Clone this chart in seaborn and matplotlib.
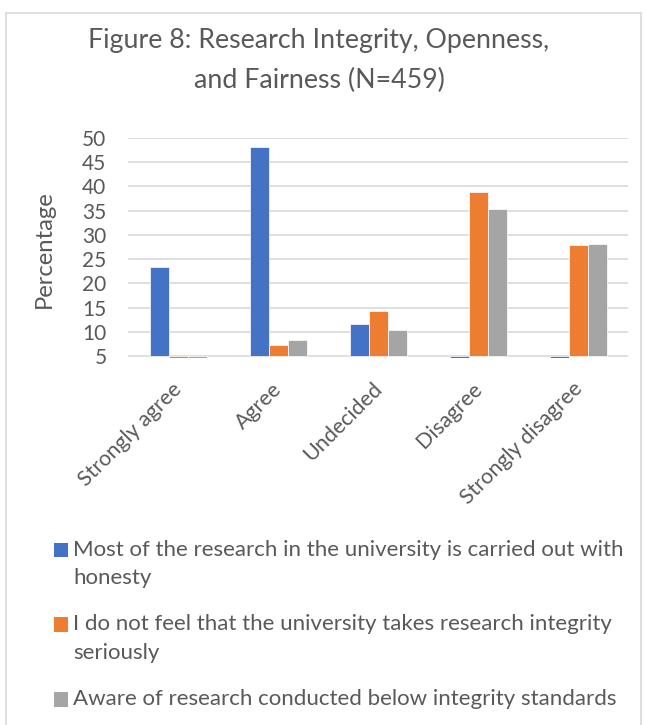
import matplotlib
matplotlib.use("Agg")
import matplotlib.pyplot as plt
from matplotlib.patches import Rectangle, Patch
from matplotlib.transforms import ScaledTranslation
from matplotlib.legend_handler import HandlerPatch
import seaborn as sns
import pandas as pd

categories = ["Strongly agree", "Agree", "Undecided", "Disagree", "Strongly disagree"]
series_names = [
    "Most of the research in the university is carried out with\nhonesty",
    "I do not feel that the university takes research integrity\nseriously",
    "Aware of research conducted below integrity standards",
]
honesty = [23.3, 48.1, 11.6, 0.5, 0.5]
not_serious = [0.5, 7.3, 14.4, 38.9, 27.9]
aware_below = [0.5, 8.3, 10.3, 35.3, 28.2]
colors = ["#4472C4", "#ED7D31", "#A5A5A5"]
y_ticks = [5, 10, 15, 20, 25, 30, 35, 40, 45, 50]
baseline = 5

rows = []
for name, vals in zip(series_names, [honesty, not_serious, aware_below]):
    for c, v in zip(categories, vals):
        rows.append({"Category": c, "Series": name, "Value": v})
df = pd.DataFrame(rows)

sns.set_theme(style="white")
plt.rcParams["font.family"] = ["Lato", "DejaVu Sans"]
TXT = "#595959"

fig = plt.figure(figsize=(6.46, 7.25), dpi=100)
W, H = 646, 725
ax = fig.add_axes([128 / W, 1 - 358 / H, 500 / W, (358 - 138) / H])

sns.barplot(data=df, x="Category", y="Value", hue="Series", order=categories,
            hue_order=series_names, palette=colors, width=0.57, errorbar=None,
            legend=False, ax=ax, edgecolor="white", linewidth=0.5, saturation=1, zorder=3)

# Excel-style: bars grow from the axis crossing at 5
for p in ax.patches:
    h = p.get_height()
    p.set_y(baseline)
    p.set_height(h - baseline)

ax.set_ylim(4.6, 50)
ax.set_yticks(y_ticks)
ax.yaxis.grid(True, color="#D9D9D9", linewidth=1.2, zorder=0)
ax.set_axisbelow(True)
for s in ax.spines.values():
    s.set_visible(False)
ax.tick_params(axis="both", length=0, colors=TXT)
ax.tick_params(axis="y", pad=15.5, labelsize=15)
ax.tick_params(axis="x", pad=15, labelsize=15.5)
off = ScaledTranslation(-6 / 100, 0, fig.dpi_scale_trans)
for lab in ax.get_xticklabels():
    lab.set_rotation(45)
    lab.set_ha("right")
    lab.set_rotation_mode("anchor")
    lab.set_transform(lab.get_transform() + off)
ax.set_xlabel("")
ax.set_ylabel("Percentage", color=TXT, fontsize=17.2)
ax.yaxis.set_label_coords((55 - 128) / 500, (358 - 249) / 220)

fig.text(319 / W, 1 - 88 / H, "Figure 8: Research Integrity, Openness,\nand Fairness (N=459)",
         ha="center", va="baseline", fontsize=19.3, color=TXT, linespacing=1.72)


def square(legend, orig_handle, xdescent, ydescent, width, height, fontsize):
    return Rectangle((-xdescent, -ydescent - 2.2), width, height)


handles = [Patch(facecolor=c, edgecolor="none") for c in colors]
leg = fig.legend(handles, series_names, loc="upper left",
                 bbox_to_anchor=(45 / W, 1 - 531 / H), frameon=False,
                 fontsize=16, handlelength=0.63, handleheight=0.63,
                 handletextpad=0.24, labelspacing=1.18, labelcolor=TXT,
                 borderaxespad=0,
                 handler_map={Patch: HandlerPatch(patch_func=square)})
for t in leg.get_texts():
    t.set_linespacing(1.52)
for col in leg._legend_handle_box.get_children():
    for hp in col.get_children():
        hp.align = "top"

fig.patches.append(Rectangle((6 / W, -0.02), 635 / W, 1 - 13 / H + 0.02,
                             transform=fig.transFigure, fill=False,
                             edgecolor="#D9D9D9", linewidth=1.2))

fig.savefig("out.png", dpi=100)
